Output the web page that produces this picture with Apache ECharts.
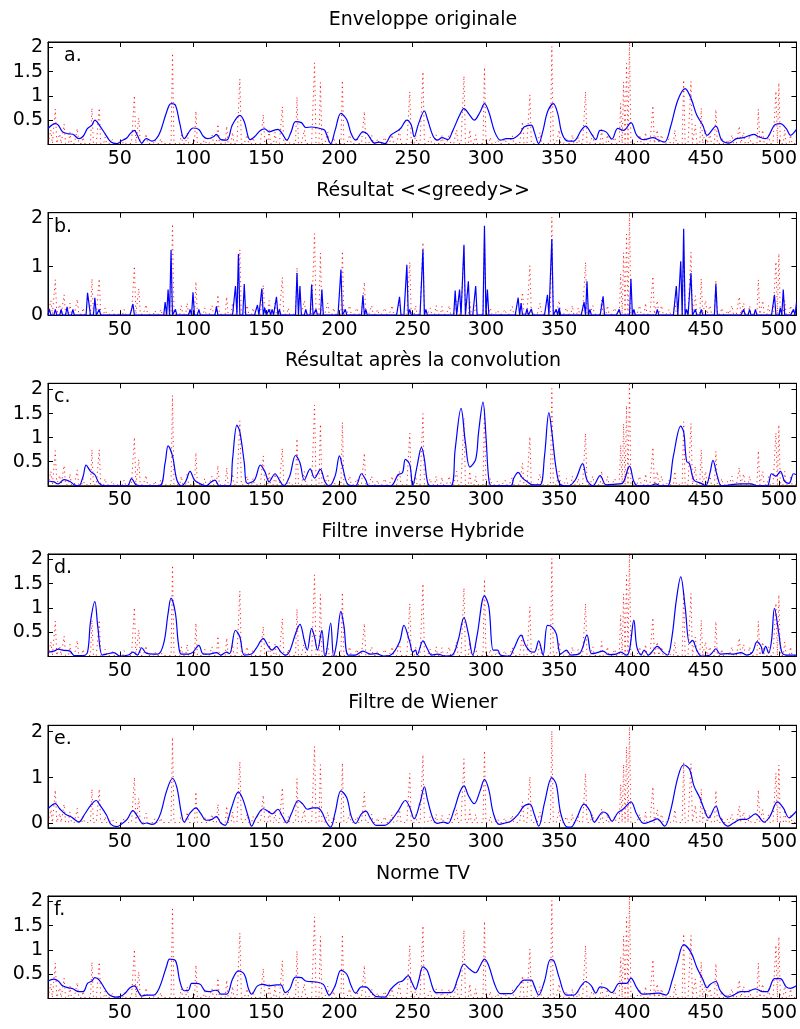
<!DOCTYPE html>
<html><head><meta charset="utf-8">
<script src="https://cdn.jsdelivr.net/npm/echarts@6/dist/echarts.min.js"></script>
<style>html,body{margin:0;padding:0;background:#fff}#c{width:800px;height:1029px}</style>
</head><body><div id="c"></div><script>
// ---------- data ----------
const xTickValues = [50,100,150,200,250,300,350,400,450,500];
const panelTitles = ['Enveloppe originale','Résultat <<greedy>>','Résultat après la convolution','Filtre inverse Hybride','Filtre de Wiener','Norme TV'];
const panelTags = ['a.','b.','c.','d.','e.','f.'];
const yTicksHalf = [0.5,1,1.5,2];
const yTicksUnit = [0,1,2];

// red dotted signal: spikes [sample, amplitude]
const reflectivity = [[3,0.30],[6,0.73],[9,0.22],[12,0.42],[16,0.25],[21,0.33],[25,0.15],[31,0.75],[36,0.75],[40,0.15],[45,0.10],[53,0.12],[60,1.01],[63,0.55],[68,0.22],[74,0.10],[78,0.12],[86,1.88],[92,0.20],[96,0.25],[102,0.69],[108,0.15],[113,0.20],[117,0.42],[123,0.38],[127,0.25],[132,1.35],[137,0.20],[141,0.15],[148,0.62],[152,0.30],[156,0.25],[161,0.78],[165,0.15],[171,0.98],[176,0.30],[183,1.68],[187,1.28],[192,0.25],[196,0.15],[202,1.32],[207,0.20],[212,0.15],[217,0.68],[222,0.20],[226,0.12],[231,0.15],[236,0.20],[241,0.30],[248,1.09],[252,0.20],[257,1.50],[262,0.15],[266,0.20],[270,0.18],[275,0.20],[280,0.30],[285,1.41],[289,0.30],[293,0.20],[299,1.59],[303,0.15],[308,0.10],[313,0.12],[318,0.18],[325,0.47],[330,1.02],[337,0.25],[345,2.02],[350,0.30],[355,0.15],[359,0.20],[363,0.15],[368,1.09],[373,0.20],[379,0.31],[383,0.20],[388,0.15],[392,0.85],[394,1.29],[396,1.67],[398,2.11],[405,0.20],[409,0.25],[414,0.80],[417,0.30],[420,0.20],[425,0.12],[429,0.30],[435,1.33],[440,1.30],[443,0.40],[447,0.75],[450,0.30],[453,0.20],[457,0.72],[461,0.15],[465,0.10],[468,0.20],[473,0.38],[476,0.25],[480,0.20],[486,0.73],[489,0.30],[493,0.20],[498,1.10],[500,1.27],[504,0.30],[508,0.20]];
const reflectivityFloor = 0.02;

const envelope = [[1,0.33],[6,0.43],[8,0.40],[11,0.26],[15,0.22],[18,0.21],[22,0.12],[25,0.17],[28,0.33],[31,0.40],[33,0.50],[36,0.40],[40,0.22],[44,0.05],[48,0.02],[51,0.07],[55,0.14],[57,0.22],[60,0.29],[62,0.19],[65,0.03],[68,0.12],[72,0.07],[75,0.12],[78,0.29],[82,0.67],[85,0.84],[88,0.81],[91,0.43],[94,0.12],[98,0.29],[100,0.34],[104,0.31],[107,0.17],[110,0.12],[114,0.16],[116,0.21],[119,0.10],[123,0.09],[127,0.41],[132,0.60],[135,0.47],[139,0.10],[142,0.16],[146,0.29],[149,0.32],[152,0.26],[155,0.29],[158,0.31],[161,0.22],[164,0.09],[167,0.26],[170,0.47],[174,0.45],[177,0.35],[181,0.36],[184,0.35],[188,0.32],[190,0.29],[194,0.02],[197,0.29],[201,0.64],[205,0.51],[208,0.22],[211,0.09],[216,0.26],[219,0.22],[224,0.03],[227,0.05],[231,0.02],[235,0.19],[240,0.29],[242,0.34],[246,0.50],[249,0.40],[251,0.16],[254,0.43],[258,0.69],[260,0.53],[264,0.17],[267,0.09],[270,0.14],[274,0.10],[277,0.26],[282,0.60],[285,0.74],[289,0.60],[292,0.50],[296,0.67],[299,0.84],[302,0.67],[306,0.26],[310,0.09],[314,0.12],[318,0.12],[323,0.22],[326,0.36],[331,0.40],[333,0.26],[336,0.02],[339,0.29],[342,0.67],[346,0.84],[349,0.64],[352,0.22],[356,0.07],[360,0.07],[365,0.29],[368,0.38],[372,0.22],[375,0.10],[378,0.29],[382,0.26],[386,0.11],[390,0.33],[394,0.29],[399,0.45],[403,0.19],[408,0.10],[414,0.14],[418,0.09],[422,0.05],[426,0.36],[431,0.91],[436,1.15],[440,0.95],[444,0.60],[448,0.40],[451,0.19],[457,0.38],[461,0.09],[466,0.03],[471,0.12],[476,0.14],[483,0.21],[486,0.16],[491,0.12],[497,0.40],[501,0.43],[505,0.33],[508,0.19],[512,0.31]];

// greedy: nonzero samples [sample, amplitude]; all other samples are 0
const greedySpikes = [[2,0.12],[6,0.12],[10,0.12],[14,0.17],[18,0.12],[28,0.46],[29,0.48],[33,0.36],[36,0.12],[59,0.23],[81,0.27],[83,0.53],[85,1.34],[88,0.12],[98,0.12],[100,0.47],[104,0.12],[116,0.18],[129,0.60],[131,1.26],[135,0.64],[144,0.21],[147,0.55],[149,0.15],[152,0.12],[154,0.12],[157,0.38],[159,0.12],[171,0.87],[173,0.60],[177,0.12],[181,0.63],[184,0.12],[188,0.53],[201,0.94],[204,0.12],[216,0.41],[218,0.12],[241,0.38],[246,1.04],[248,0.12],[257,1.35],[259,0.12],[279,0.51],[282,0.53],[285,1.45],[288,0.70],[293,0.60],[299,1.84],[301,0.53],[322,0.36],[324,0.25],[328,0.13],[331,0.13],[342,0.42],[345,1.57],[348,0.12],[350,0.15],[367,0.27],[369,0.70],[371,0.12],[380,0.39],[391,0.12],[399,0.75],[401,0.12],[417,0.12],[430,0.60],[433,1.11],[435,1.78],[437,0.12],[440,0.87],[443,0.12],[447,0.12],[457,0.64],[476,0.12],[480,0.12],[484,0.12],[497,0.42],[501,0.15],[503,0.53],[510,0.12],[512,0.25]];

const convolution = [[1,0.10],[5,0.08],[8,0.04],[12,0.13],[16,0.09],[19,0.02],[22,0.0],[25,0.20],[27,0.43],[30,0.30],[33,0.23],[36,0.05],[40,0.0],[55,0.0],[58,0.15],[61,0.02],[64,0.0],[77,0.0],[81,0.48],[83,0.83],[86,0.62],[89,0.12],[92,0.0],[95,0.09],[98,0.30],[101,0.12],[105,0.04],[109,0.0],[112,0.07],[115,0.12],[118,0.0],[125,0.0],[127,0.55],[130,1.26],[132,1.12],[135,0.48],[137,0.05],[142,0.12],[146,0.43],[149,0.30],[152,0.08],[153,0.12],[156,0.25],[159,0.12],[162,0.0],[166,0.20],[170,0.63],[173,0.48],[176,0.12],[180,0.35],[183,0.16],[187,0.34],[190,0.09],[193,0.0],[197,0.20],[200,0.62],[202,0.41],[206,0.02],[211,0.0],[215,0.25],[218,0.12],[220,0.0],[235,0.0],[240,0.23],[243,0.27],[245,0.55],[248,0.44],[250,0.0],[253,0.41],[256,0.80],[258,0.55],[260,0.09],[262,0.0],[276,0.0],[279,0.76],[283,1.61],[286,0.90],[289,0.39],[293,0.55],[295,1.12],[298,1.74],[300,1.04],[302,0.12],[304,0.0],[317,0.0],[319,0.16],[322,0.28],[325,0.16],[328,0.09],[332,0.02],[337,0.02],[340,0.62],[343,1.52],[345,1.12],[348,0.34],[351,0.02],[356,0.0],[361,0.12],[366,0.46],[369,0.12],[373,0.0],[378,0.21],[382,0.02],[387,0.03],[393,0.05],[398,0.41],[401,0.09],[404,0.0],[412,0.0],[416,0.04],[419,0.0],[424,0.0],[428,0.62],[433,1.24],[435,1.12],[437,0.51],[439,0.46],[442,0.12],[447,0.05],[450,0.0],[453,0.27],[455,0.53],[458,0.20],[461,0.0],[474,0.04],[481,0.04],[485,0.0],[492,0.0],[495,0.25],[498,0.20],[501,0.30],[504,0.09],[507,0.05],[510,0.25],[512,0.23]];

const hybrid = [[1,0.09],[5,0.11],[8,0.15],[11,0.13],[16,0.11],[19,0.02],[25,0.02],[28,0.09],[30,0.71],[33,1.13],[35,0.61],[38,0.03],[41,0.05],[46,0.08],[50,0.01],[56,0.03],[59,0.09],[62,0.03],[65,0.18],[68,0.07],[73,0.05],[76,0.05],[80,0.27],[83,0.89],[85,1.20],[88,0.89],[90,0.27],[92,0.05],[97,0.05],[100,0.09],[104,0.23],[107,0.05],[111,0.05],[116,0.08],[119,0.03],[123,0.09],[125,0.06],[129,0.54],[132,0.40],[135,0.03],[140,0.05],[143,0.16],[148,0.37],[151,0.23],[154,0.13],[157,0.21],[160,0.09],[163,0.03],[166,0.11],[170,0.47],[173,0.66],[176,0.33],[178,0.13],[181,0.58],[183,0.40],[185,0.13],[188,0.54],[190,0.0],[191,0.06],[194,0.69],[196,0.0],[198,0.27],[201,0.93],[203,0.64],[206,0.03],[211,0.03],[216,0.11],[221,0.05],[225,0.06],[230,0.01],[235,0.03],[241,0.30],[244,0.64],[248,0.30],[250,0.09],[252,0.13],[253,0.03],[257,0.32],[260,0.16],[263,0.03],[267,0.05],[272,0.01],[277,0.03],[281,0.33],[285,0.80],[288,0.47],[291,0.03],[294,0.44],[299,1.25],[302,1.02],[305,0.13],[308,0.13],[310,0.03],[316,0.01],[319,0.16],[324,0.44],[327,0.23],[330,0.11],[333,0.09],[336,0.32],[339,0.03],[342,0.64],[345,0.61],[348,0.47],[351,0.05],[355,0.13],[358,0.03],[364,0.06],[369,0.44],[372,0.06],[375,0.07],[380,0.11],[384,0.04],[389,0.05],[392,0.09],[396,0.03],[398,0.13],[401,0.75],[403,0.20],[406,0.03],[408,0.13],[411,0.03],[417,0.21],[421,0.09],[424,0.03],[427,0.40],[430,1.16],[433,1.64],[436,1.02],[439,0.27],[441,0.33],[444,0.13],[447,0.01],[453,0.03],[457,0.16],[460,0.05],[465,0.06],[469,0.05],[474,0.08],[478,0.03],[482,0.09],[485,0.30],[488,0.20],[489,0.06],[491,0.21],[493,0.07],[495,0.33],[497,0.99],[500,0.47],[502,0.09],[505,0.03],[512,0.03]];

const wiener = [[1,0.32],[6,0.43],[9,0.32],[13,0.20],[17,0.14],[19,0.09],[22,0.03],[26,0.20],[30,0.39],[34,0.50],[36,0.42],[41,0.18],[44,-0.02],[48,-0.07],[51,-0.02],[55,0.09],[59,0.28],[62,0.16],[66,-0.01],[68,0.01],[72,-0.02],[75,0.03],[78,0.23],[82,0.71],[86,0.98],[89,0.78],[92,0.23],[94,0.03],[98,0.23],[102,0.34],[105,0.23],[109,0.07],[113,0.09],[116,0.15],[119,0.01],[122,-0.04],[126,0.31],[131,0.69],[134,0.53],[138,0.12],[140,-0.06],[143,0.12],[148,0.32],[151,0.27],[154,0.21],[158,0.31],[161,0.16],[164,0.01],[167,0.20],[172,0.50],[175,0.42],[178,0.31],[182,0.34],[185,0.34],[188,0.25],[191,0.03],[194,-0.08],[197,0.23],[201,0.71],[205,0.56],[208,0.16],[211,0.0],[215,0.21],[218,0.27],[221,0.12],[225,-0.04],[231,-0.04],[235,0.05],[240,0.27],[245,0.50],[248,0.35],[251,0.10],[255,0.45],[258,0.80],[260,0.53],[264,0.09],[267,0.0],[271,0.03],[274,0.0],[278,0.27],[282,0.67],[285,0.82],[288,0.61],[292,0.43],[296,0.71],[299,0.96],[302,0.73],[305,0.23],[309,-0.02],[313,0.01],[317,0.05],[322,0.20],[326,0.38],[330,0.42],[333,0.20],[336,-0.06],[340,0.45],[345,1.0],[348,0.85],[351,0.23],[355,-0.07],[358,-0.08],[362,0.12],[367,0.42],[371,0.27],[374,0.03],[380,0.25],[383,0.20],[386,0.05],[390,0.23],[394,0.32],[399,0.47],[403,0.20],[408,0.0],[413,0.05],[417,0.10],[422,-0.06],[426,0.27],[431,1.0],[435,1.28],[439,1.18],[442,0.82],[446,0.56],[449,0.31],[452,0.12],[457,0.38],[460,0.12],[465,-0.06],[469,0.01],[474,0.09],[478,0.09],[484,0.21],[490,0.03],[494,0.16],[499,0.47],[503,0.34],[507,0.12],[510,0.20],[512,0.27]];

const normeTV = [[1,0.36],[5,0.40],[8,0.36],[11,0.26],[15,0.22],[18,0.20],[22,0.14],[25,0.14],[28,0.31],[31,0.36],[33,0.43],[36,0.38],[40,0.19],[43,0.07],[47,0.03],[50,0.04],[53,0.09],[57,0.22],[60,0.26],[63,0.12],[65,0.05],[68,0.07],[73,0.07],[77,0.22],[82,0.67],[84,0.81],[88,0.78],[91,0.36],[94,0.16],[97,0.17],[99,0.31],[102,0.31],[105,0.29],[108,0.16],[111,0.14],[115,0.17],[117,0.16],[119,0.09],[123,0.09],[127,0.40],[131,0.57],[135,0.50],[138,0.19],[140,0.09],[144,0.26],[148,0.29],[152,0.26],[157,0.28],[160,0.28],[163,0.12],[166,0.19],[170,0.44],[174,0.43],[177,0.36],[184,0.34],[189,0.29],[193,0.07],[197,0.26],[201,0.58],[205,0.50],[208,0.26],[211,0.11],[215,0.24],[218,0.24],[222,0.12],[225,0.04],[231,0.03],[235,0.19],[240,0.33],[243,0.36],[247,0.47],[249,0.36],[252,0.19],[254,0.36],[257,0.65],[260,0.57],[264,0.19],[266,0.12],[276,0.12],[281,0.43],[285,0.71],[289,0.60],[293,0.53],[296,0.67],[299,0.81],[302,0.67],[306,0.29],[310,0.10],[317,0.10],[322,0.26],[326,0.38],[331,0.38],[333,0.26],[336,0.07],[340,0.36],[344,0.80],[346,0.79],[350,0.43],[355,0.07],[360,0.07],[365,0.26],[368,0.35],[372,0.26],[375,0.11],[378,0.24],[382,0.21],[386,0.12],[391,0.31],[396,0.31],[399,0.42],[403,0.22],[407,0.09],[413,0.10],[418,0.11],[423,0.07],[427,0.36],[431,0.78],[435,1.11],[440,0.95],[444,0.64],[448,0.40],[451,0.22],[453,0.29],[457,0.35],[460,0.16],[465,0.03],[469,0.07],[474,0.14],[478,0.14],[484,0.20],[489,0.14],[492,0.14],[497,0.41],[501,0.41],[505,0.24],[508,0.21],[512,0.26]];

// ---------- build ----------
const N = 512;
function denseFrom(spikes, floor){
  const arr = [];
  for (let i = 1; i <= N; i++) arr.push([i, floor]);
  spikes.forEach(([x, h]) => { arr[x - 1] = [x, h]; });
  return arr;
}
const redData = denseFrom(reflectivity, reflectivityFloor);
const greedyData = denseFrom(greedySpikes, 0);

const panels = [
  {data: envelope, smooth: 0.35, yMin: 0.0, yMax: 2.11, ticks: yTicksHalf},
  {data: greedyData, smooth: false, yMin: 0, yMax: 2.11, ticks: yTicksUnit},
  {data: convolution, smooth: 0.35, yMin: 0.0, yMax: 2.13, ticks: yTicksHalf},
  {data: hybrid, smooth: 0.35, yMin: 0.0, yMax: 2.11, ticks: yTicksHalf},
  {data: wiener, smooth: 0.35, yMin: -0.095, yMax: 2.14, ticks: yTicksUnit},
  {data: normeTV, smooth: 0.35, yMin: 0.0, yMax: 2.11, ticks: yTicksHalf}
];

const FONT = '"DejaVu Sans", "Liberation Sans", Arial, sans-serif';
const FS = 19;
const plotLeft = 48, plotRight = 798, plotH = 102.5;
const tops = [42, 212.7, 383.3, 554, 725.3, 896];

const grids = [], xAxes = [], yAxes = [], series = [], graphics = [];
const line = {show: true, onZero: false, lineStyle: {color: '#000', width: 1}};
panels.forEach((p, i) => {
  grids.push({left: plotLeft, width: plotRight - plotLeft, top: tops[i], height: plotH,
    show: true, borderColor: '#000', borderWidth: 1, backgroundColor: '#fff'});
  const xBase = {type: 'value', gridIndex: i, min: 1, max: N, axisLine: line, splitLine: {show: false},
    axisTick: {show: true, inside: true, length: 5, customValues: xTickValues, lineStyle: {color: '#000'}}};
  xAxes.push(Object.assign({}, xBase, {position: 'bottom',
    axisLabel: {show: true, customValues: xTickValues, color: '#000', fontSize: FS, fontFamily: FONT, margin: 5}}));
  xAxes.push(Object.assign({}, xBase, {position: 'top', axisLabel: {show: false, customValues: xTickValues}}));
  const yBase = {type: 'value', gridIndex: i, min: p.yMin, max: p.yMax, axisLine: line, splitLine: {show: false},
    axisTick: {show: true, inside: true, length: 5, customValues: p.ticks, lineStyle: {color: '#000'}}};
  yAxes.push(Object.assign({}, yBase, {position: 'left',
    axisLabel: {show: true, customValues: p.ticks, color: '#000', fontSize: FS, fontFamily: FONT, margin: 5}}));
  yAxes.push(Object.assign({}, yBase, {position: 'right', axisLabel: {show: false, customValues: p.ticks}}));
  series.push({type: 'line', xAxisIndex: 2*i, yAxisIndex: 2*i, data: redData, showSymbol: false, symbol: 'none',
    lineStyle: {color: 'rgba(255,0,0,0.85)', width: 1, type: [1.2, 3.5]}, silent: true, z: 2});
  series.push({type: 'line', xAxisIndex: 2*i, yAxisIndex: 2*i, data: p.data, showSymbol: false, symbol: 'none',
    smooth: p.smooth, lineStyle: {color: '#0000ff', width: 1.2}, silent: true, z: 3});
  graphics.push({type: 'text', x: 423, y: tops[i] - 22, style: {text: panelTitles[i], fill: '#000',
    font: FS + 'px ' + FONT, textAlign: 'center', textVerticalAlign: 'middle'}, z: 10});
  graphics.push({type: 'text', x: (i === 0 ? 64 : 54), y: tops[i] + 14, style: {text: panelTags[i], fill: '#000',
    font: FS + 'px ' + FONT, textAlign: 'left', textVerticalAlign: 'middle'}, z: 10});
});

const chart = echarts.init(document.getElementById('c'), null, {renderer: 'canvas'});
chart.setOption({animation: false, backgroundColor: '#fff', grid: grids, xAxis: xAxes, yAxis: yAxes,
  series: series, graphic: graphics});
</script></body></html>
